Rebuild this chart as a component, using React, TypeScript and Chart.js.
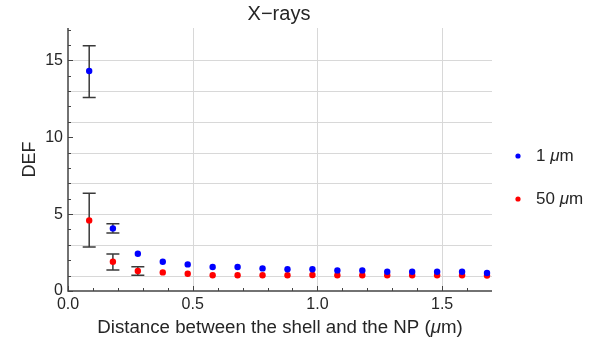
import React, { useEffect, useRef } from "react";
import { Chart, registerables } from "chart.js";

Chart.register(...registerables);

const xValues = [0.085, 0.18, 0.28, 0.38, 0.48, 0.58, 0.68, 0.78, 0.88, 0.98, 1.08, 1.18, 1.28, 1.38, 1.48, 1.58, 1.68];
const blueValues = [14.3, 4.07, 2.42, 1.9, 1.73, 1.56, 1.56, 1.47, 1.41, 1.41, 1.34, 1.34, 1.25, 1.25, 1.25, 1.25, 1.17];
const redValues = [4.59, 1.9, 1.3, 1.21, 1.12, 1.02, 1.02, 1.02, 1.02, 1.04, 1.02, 1.02, 1.02, 1.02, 1.02, 1.02, 1.0];
const blueErrLow = [12.58, 3.77];
const blueErrHigh = [15.95, 4.37];
const redErrLow = [2.86, 1.36, 1.02];
const redErrHigh = [6.36, 2.4, 1.58];

const xMajorTicks = [0, 0.5, 1.0, 1.5];
const xMinorTicks = [0.1, 0.2, 0.3, 0.4, 0.6, 0.7, 0.8, 0.9, 1.1, 1.2, 1.3, 1.4, 1.6];
const yMajorTicks = [0, 5, 10, 15];
const yMinorTicks = [1, 2, 3, 4, 6, 7, 8, 9, 11, 12, 13, 14, 16, 17];
const xGridValues = [0.5, 1.0, 1.5];
const yGridValues = [1, 3, 5, 7, 9, 11, 13, 15];

const seriesLabels = ["1", "50"];
const titleText = "X\u2212rays";
const yTitle = "DEF";
const xTitleParts = ["Distance between the shell and the NP (", "\u03bc", "m)"];

const FONT = "'Liberation Sans', Arial, sans-serif";
const TEXT = "#262626";

const decorPlugin = {
  id: "decor",
  beforeDatasetsDraw(chart: any) {
    const { ctx, chartArea: a, scales } = chart;
    const xs = scales.x, ys = scales.y;
    ctx.save();
    // grid
    ctx.strokeStyle = "#d8d8d8";
    ctx.lineWidth = 1;
    ctx.beginPath();
    yGridValues.forEach((v) => {
      const y = Math.round(ys.getPixelForValue(v)) + 0.5;
      ctx.moveTo(a.left, y);
      ctx.lineTo(a.right, y);
    });
    xGridValues.forEach((v) => {
      const x = Math.round(xs.getPixelForValue(v)) + 0.5;
      ctx.moveTo(x, a.top);
      ctx.lineTo(x, a.bottom);
    });
    ctx.stroke();
    // error bars
    ctx.strokeStyle = "#3a3a3a";
    ctx.lineWidth = 1.5;
    const drawErr = (lo: number[], hi: number[]) => {
      lo.forEach((l, i) => {
        const x = xs.getPixelForValue(xValues[i]);
        const y1 = ys.getPixelForValue(l);
        const y2 = ys.getPixelForValue(hi[i]);
        ctx.beginPath();
        ctx.moveTo(x, y1);
        ctx.lineTo(x, y2);
        ctx.moveTo(x - 6.5, y1);
        ctx.lineTo(x + 6.5, y1);
        ctx.moveTo(x - 6.5, y2);
        ctx.lineTo(x + 6.5, y2);
        ctx.stroke();
      });
    };
    drawErr(blueErrLow, blueErrHigh);
    drawErr(redErrLow, redErrHigh);
    ctx.restore();
  },
  afterDraw(chart: any) {
    const { ctx, chartArea: a, scales } = chart;
    const xs = scales.x, ys = scales.y;
    ctx.save();
    // axes
    ctx.strokeStyle = "#444";
    ctx.lineWidth = 1.5;
    ctx.beginPath();
    ctx.moveTo(a.left, a.top);
    ctx.lineTo(a.left, a.bottom);
    ctx.lineTo(a.right, a.bottom);
    ctx.stroke();
    ctx.lineWidth = 1;
    ctx.beginPath();
    xMajorTicks.forEach((v) => {
      const x = Math.round(xs.getPixelForValue(v)) + 0.5;
      ctx.moveTo(x, a.bottom);
      ctx.lineTo(x, a.bottom - 5);
    });
    xMinorTicks.forEach((v) => {
      const x = Math.round(xs.getPixelForValue(v)) + 0.5;
      ctx.moveTo(x, a.bottom);
      ctx.lineTo(x, a.bottom - 3);
    });
    yMajorTicks.forEach((v) => {
      const y = Math.round(ys.getPixelForValue(v)) + 0.5;
      ctx.moveTo(a.left, y);
      ctx.lineTo(a.left + 5, y);
    });
    yMinorTicks.forEach((v) => {
      const y = Math.round(ys.getPixelForValue(v)) + 0.5;
      ctx.moveTo(a.left, y);
      ctx.lineTo(a.left + 3, y);
    });
    ctx.stroke();

    const cx = (a.left + a.right) / 2;
    ctx.fillStyle = TEXT;
    ctx.textBaseline = "middle";
    // title
    ctx.font = `20px ${FONT}`;
    ctx.textAlign = "center";
    ctx.fillText(titleText, cx - 1, 14);
    // y title
    ctx.font = `18px ${FONT}`;
    ctx.save();
    ctx.translate(30, (a.top + a.bottom) / 2);
    ctx.rotate(-Math.PI / 2);
    ctx.fillText(yTitle, 0, 0);
    ctx.restore();
    // x title with italic mu
    ctx.textAlign = "left";
    const normal = `18.7px ${FONT}`;
    const italic = `italic 18.7px ${FONT}`;
    const fonts = [normal, italic, normal];
    let total = 0;
    const widths = xTitleParts.map((p, i) => {
      ctx.font = fonts[i];
      const w = ctx.measureText(p).width;
      total += w;
      return w;
    });
    let px = cx - total / 2;
    xTitleParts.forEach((p, i) => {
      ctx.font = fonts[i];
      ctx.fillText(p, px, 328);
      px += widths[i];
    });
    // legend
    const colors = ["#0000ff", "#ff0000"];
    const ly = [156, 199];
    const lNormal = `17px ${FONT}`;
    const lItalic = `italic 17px ${FONT}`;
    seriesLabels.forEach((lab, i) => {
      ctx.fillStyle = colors[i];
      ctx.beginPath();
      ctx.arc(518, ly[i], 2.6, 0, Math.PI * 2);
      ctx.fill();
      ctx.fillStyle = TEXT;
      let lx = 536;
      ctx.font = lNormal;
      const t1 = lab + " ";
      ctx.fillText(t1, lx, ly[i]);
      lx += ctx.measureText(t1).width;
      ctx.font = lItalic;
      ctx.fillText("\u03bc", lx, ly[i]);
      lx += ctx.measureText("\u03bc").width;
      ctx.font = lNormal;
      ctx.fillText("m", lx, ly[i]);
    });
    ctx.restore();
  },
};

export default function App() {
  const ref = useRef<HTMLCanvasElement | null>(null);
  useEffect(() => {
    document.body.style.margin = "0";
    const chart = new Chart(ref.current as HTMLCanvasElement, {
      type: "scatter",
      data: {
        datasets: [
          {
            label: seriesLabels[0],
            data: xValues.map((x, i) => ({ x, y: blueValues[i] })),
            backgroundColor: "#0000ff",
            borderWidth: 0,
            pointRadius: 3.2,
          },
          {
            label: seriesLabels[1],
            data: xValues.map((x, i) => ({ x, y: redValues[i] })),
            backgroundColor: "#ff0000",
            borderWidth: 0,
            pointRadius: 3.2,
          },
        ],
      },
      options: {
        animation: false,
        responsive: false,
        events: [],
        layout: { padding: { left: 0, top: 28, right: 101, bottom: 0 } },
        plugins: { legend: { display: false }, tooltip: { enabled: false }, title: { display: false } },
        scales: {
          x: {
            type: "linear",
            min: 0,
            max: 1.7,
            grid: { display: false, drawTicks: false },
            border: { display: false },
            afterFit: (s: any) => {
              s.height = 56;
            },
            afterBuildTicks: (s: any) => {
              s.ticks = xMajorTicks.map((v) => ({ value: v }));
            },
            ticks: {
              padding: 4,
              color: TEXT,
              font: { size: 16, family: FONT },
              callback: (v: any) => Number(v).toFixed(1),
            },
          },
          y: {
            type: "linear",
            min: 0,
            max: 17.1,
            grid: { display: false, drawTicks: false },
            border: { display: false },
            afterFit: (s: any) => {
              s.width = 68;
            },
            afterBuildTicks: (s: any) => {
              s.ticks = yMajorTicks.map((v) => ({ value: v }));
            },
            ticks: {
              padding: 5,
              color: TEXT,
              font: { size: 16, family: FONT },
              callback: (v: any) => String(v),
            },
          },
        },
      },
      plugins: [decorPlugin],
    } as any);
    return () => chart.destroy();
  }, []);
  return (
    <div style={{ position: "fixed", left: 0, top: 0, width: 593, height: 347, background: "#fff" }}>
      <canvas ref={ref} width={593} height={347} style={{ display: "block" }} />
    </div>
  );
}
